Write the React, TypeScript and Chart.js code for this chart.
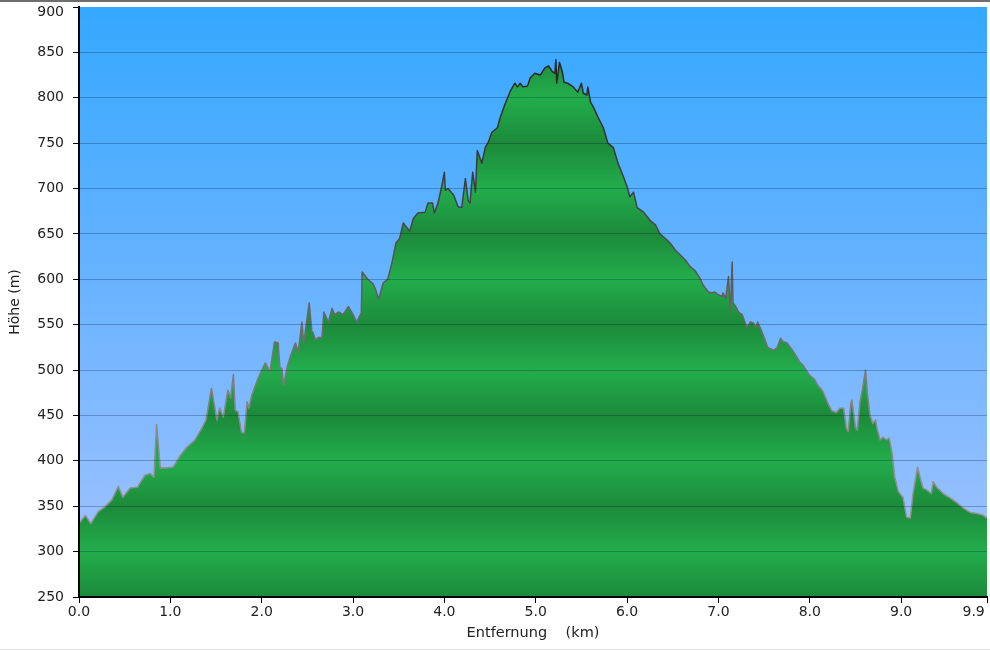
import React, { useEffect, useRef } from 'react';
import { Chart, registerables } from 'chart.js';

Chart.register(...registerables);

// Distance along the track (km)
const distKm = [
  0.00, 0.07, 0.13, 0.21, 0.28, 0.36, 0.43, 0.48, 0.56, 0.64, 0.72, 0.78, 0.82, 0.85, 0.89, 0.94,
  1.03, 1.11, 1.18, 1.27, 1.35, 1.39, 1.45, 1.51, 1.54, 1.58, 1.63, 1.66, 1.69, 1.71, 1.74, 1.78,
  1.81, 1.84, 1.86, 1.89, 1.96, 2.04, 2.09, 2.14, 2.18, 2.20, 2.22, 2.24, 2.28, 2.31, 2.37, 2.40,
  2.44, 2.46, 2.52, 2.55, 2.56, 2.59, 2.62, 2.66, 2.68, 2.73, 2.77, 2.80, 2.84, 2.89, 2.95, 2.99,
  3.04, 3.09, 3.10, 3.16, 3.22, 3.25, 3.28, 3.33, 3.38, 3.43, 3.47, 3.51, 3.55, 3.62, 3.66, 3.71,
  3.79, 3.82, 3.87, 3.89, 3.93, 3.97, 4.00, 4.01, 4.04, 4.10, 4.15, 4.19, 4.23, 4.26, 4.28, 4.31,
  4.34, 4.36, 4.41, 4.45, 4.48, 4.52, 4.58, 4.61, 4.66, 4.72, 4.77, 4.80, 4.83, 4.86, 4.91, 4.94,
  4.99, 5.05, 5.10, 5.14, 5.18, 5.21, 5.22, 5.23, 5.26, 5.29, 5.31, 5.35, 5.41, 5.46, 5.50, 5.52,
  5.56, 5.57, 5.60, 5.63, 5.68, 5.74, 5.79, 5.85, 5.90, 5.96, 6.00, 6.03, 6.07, 6.11, 6.18, 6.25,
  6.31, 6.36, 6.42, 6.47, 6.53, 6.58, 6.64, 6.69, 6.74, 6.80, 6.83, 6.89, 6.93, 6.96, 7.00, 7.04,
  7.05, 7.08, 7.11, 7.13, 7.15, 7.16, 7.19, 7.22, 7.26, 7.29, 7.31, 7.35, 7.38, 7.41, 7.43, 7.48,
  7.51, 7.54, 7.60, 7.64, 7.68, 7.71, 7.75, 7.81, 7.86, 7.89, 7.93, 7.96, 8.00, 8.05, 8.09, 8.14,
  8.17, 8.20, 8.24, 8.29, 8.33, 8.37, 8.40, 8.42, 8.45, 8.46, 8.50, 8.52, 8.55, 8.58, 8.61, 8.63,
  8.66, 8.69, 8.72, 8.74, 8.77, 8.80, 8.84, 8.87, 8.90, 8.93, 8.97, 9.02, 9.06, 9.10, 9.13, 9.18,
  9.21, 9.24, 9.28, 9.33, 9.35, 9.39, 9.46, 9.54, 9.61, 9.68, 9.76, 9.83, 9.90, 9.94,
];

// Elevation (m)
const elevM = [
  331, 340, 331, 344, 349, 357, 372, 360, 370, 371, 384, 386, 382, 440, 392, 392,
  393, 406, 415, 423, 437, 445, 480, 445, 458, 448, 478, 469, 495, 456, 454, 431,
  431, 465, 458, 472, 491, 508, 498, 531, 530, 502, 502, 484, 504, 514, 530, 520,
  553, 530, 574, 541, 542, 533, 536, 536, 564, 553, 568, 561, 564, 561, 570, 563,
  553, 563, 608, 600, 595, 588, 578, 596, 600, 620, 640, 645, 662, 653, 667, 673,
  674, 684, 684, 673, 684, 702, 718, 698, 700, 693, 680, 679, 711, 687, 684, 718,
  696, 742, 728, 746, 751, 762, 767, 778, 792, 807, 816, 812, 816, 812, 813, 822,
  827, 825, 833, 835, 829, 827, 842, 816, 839, 829, 817, 816, 812, 806, 816, 805,
  803, 812, 795, 790, 779, 767, 750, 745, 728, 713, 702, 691, 696, 679, 674, 665,
  660, 650, 645, 640, 632, 627, 621, 614, 610, 601, 594, 586, 585, 586, 583, 581,
  585, 579, 603, 564, 619, 574, 570, 564, 561, 553, 547, 553, 552, 547, 553, 541,
  533, 525, 522, 524, 535, 531, 530, 522, 514, 509, 505, 500, 494, 490, 483, 477,
  470, 463, 455, 453, 458, 458, 436, 432, 464, 467, 437, 434, 465, 481, 500, 475,
  450, 441, 445, 434, 423, 426, 423, 425, 409, 382, 366, 360, 338, 337, 364, 393,
  381, 370, 368, 364, 377, 371, 364, 359, 354, 348, 343, 342, 340, 337,
];

const yMin = 250;
const yMax = 900;
const yStep = 50;
const xMin = 0;
const xMax = 9.94;
const xStep = 1;
const xTitle = 'Entfernung    (km)';
const yTitle = 'Höhe (m)';

const GREEN_DARK = '#1c8a3a';
const GREEN_LIGHT = '#23ad4c';

const plotBackground = {
  id: 'plotBackground',
  beforeDraw(chart: any) {
    const { ctx, chartArea } = chart;
    if (!chartArea) return;
    const g = ctx.createLinearGradient(0, chartArea.top, 0, chartArea.bottom);
    g.addColorStop(0, '#34a8ff');
    g.addColorStop(0.5, '#6cb4ff');
    g.addColorStop(1, '#a6c4ff');
    ctx.save();
    ctx.fillStyle = g;
    ctx.fillRect(chartArea.left, chartArea.top, chartArea.right - chartArea.left, chartArea.bottom - chartArea.top);
    ctx.restore();
  },
};

function clamp01(t: number) {
  return Math.max(0, Math.min(1, t));
}

export default function App() {
  const ref = useRef<HTMLCanvasElement | null>(null);

  useEffect(() => {
    if (!ref.current) return;
    const points = distKm.map((x, i) => ({ x, y: elevM[i] }));

    const fillGradient = (c: any) => {
      const chart = c.chart;
      const { chartArea, scales } = chart;
      if (!chartArea || !scales.y) return GREEN_LIGHT;
      const h = chartArea.bottom - chartArea.top;
      const g = chart.ctx.createLinearGradient(0, chartArea.top, 0, chartArea.bottom);
      for (let v = yMax; v >= yMin; v -= yStep) {
        const t = clamp01((scales.y.getPixelForValue(v) - chartArea.top) / h);
        g.addColorStop(t, (v / yStep) % 2 === 1 ? GREEN_DARK : GREEN_LIGHT);
      }
      return g;
    };

    const lineGradient = (c: any) => {
      const chart = c.chart;
      const { chartArea } = chart;
      if (!chartArea) return '#666';
      const g = chart.ctx.createLinearGradient(0, chartArea.top, 0, chartArea.bottom);
      g.addColorStop(0, '#1a1a1a');
      g.addColorStop(0.35, '#444444');
      g.addColorStop(0.7, '#8a8a8a');
      g.addColorStop(1, '#9a9a9a');
      return g;
    };

    const chart = new Chart(ref.current, {
      type: 'line',
      data: {
        datasets: [
          {
            data: points,
            fill: 'start',
            backgroundColor: fillGradient,
            borderColor: lineGradient,
            borderWidth: 1.5,
            borderJoinStyle: 'round',
            pointRadius: 0,
            pointHoverRadius: 0,
            tension: 0,
          },
        ],
      },
      options: {
        animation: false,
        responsive: false,
        devicePixelRatio: 1,
        events: [],
        layout: { padding: { top: 5, right: 3, left: 0, bottom: 0 } },
        plugins: {
          legend: { display: false },
          tooltip: { enabled: false },
        },
        scales: {
          x: {
            type: 'linear',
            min: xMin,
            max: xMax,
            ticks: {
              stepSize: xStep,
              autoSkip: false,
              maxRotation: 0,
              padding: 1,
              color: '#222',
              font: { family: 'DejaVu Sans', size: 14 },
              callback: (v: any) => {
                const n = Number(v);
                const s = n.toFixed(1);
                return Math.abs(n - xMax) < 1e-6 ? s + '      ' : s;
              },
            },
            grid: {
              drawOnChartArea: false,
              drawTicks: true,
              tickLength: 6,
              tickColor: '#000',
              tickWidth: 1,
            },
            border: { display: true, color: '#000', width: 2, z: 2 },
            title: {
              display: true,
              text: xTitle,
              color: '#222',
              font: { family: 'DejaVu Sans', size: 14.5 },
              padding: { top: 0, bottom: 7 },
            },
            afterFit: (scale: any) => {
              scale.height = 52;
              scale.paddingLeft = 0;
              scale.paddingRight = 0;
            },
          },
          y: {
            type: 'linear',
            min: yMin,
            max: yMax,
            ticks: {
              stepSize: yStep,
              padding: 9,
              color: '#222',
              font: { family: 'DejaVu Sans', size: 14, lineHeight: 0.8 },
              callback: (v: any) => (Number(v) === yMax ? ['', String(v)] : String(v)),
            },
            grid: {
              z: 1,
              color: (c: any) => {
                const v = c.tick ? c.tick.value : 0;
                return v === yMax || v === yMin ? 'rgba(0,0,0,0)' : 'rgba(0,20,50,0.28)';
              },
              lineWidth: 1,
              drawTicks: true,
              tickLength: 6,
              tickColor: '#000',
              tickWidth: 1,
            },
            border: { display: true, color: '#000', width: 2, z: 2 },
            title: {
              display: true,
              text: yTitle,
              color: '#222',
              font: { family: 'DejaVu Sans', size: 14 },
              padding: { top: 7, bottom: 0 },
            },
            afterFit: (scale: any) => {
              scale.width = 79;
              scale.paddingTop = 0;
              scale.paddingBottom = 0;
            },
          },
        },
      },
      plugins: [plotBackground],
    } as any);

    return () => chart.destroy();
  }, []);

  return (
    <div
      style={{
        position: 'fixed',
        left: 0,
        top: 0,
        width: 990,
        height: 650,
        boxSizing: 'border-box',
        background: '#fff',
        borderTop: '2px solid #6e6e6e',
        borderBottom: '1px solid #e4e4e4',
      }}
    >
      <canvas ref={ref} width={990} height={647} style={{ display: 'block', width: 990, height: 647 }} />
    </div>
  );
}
